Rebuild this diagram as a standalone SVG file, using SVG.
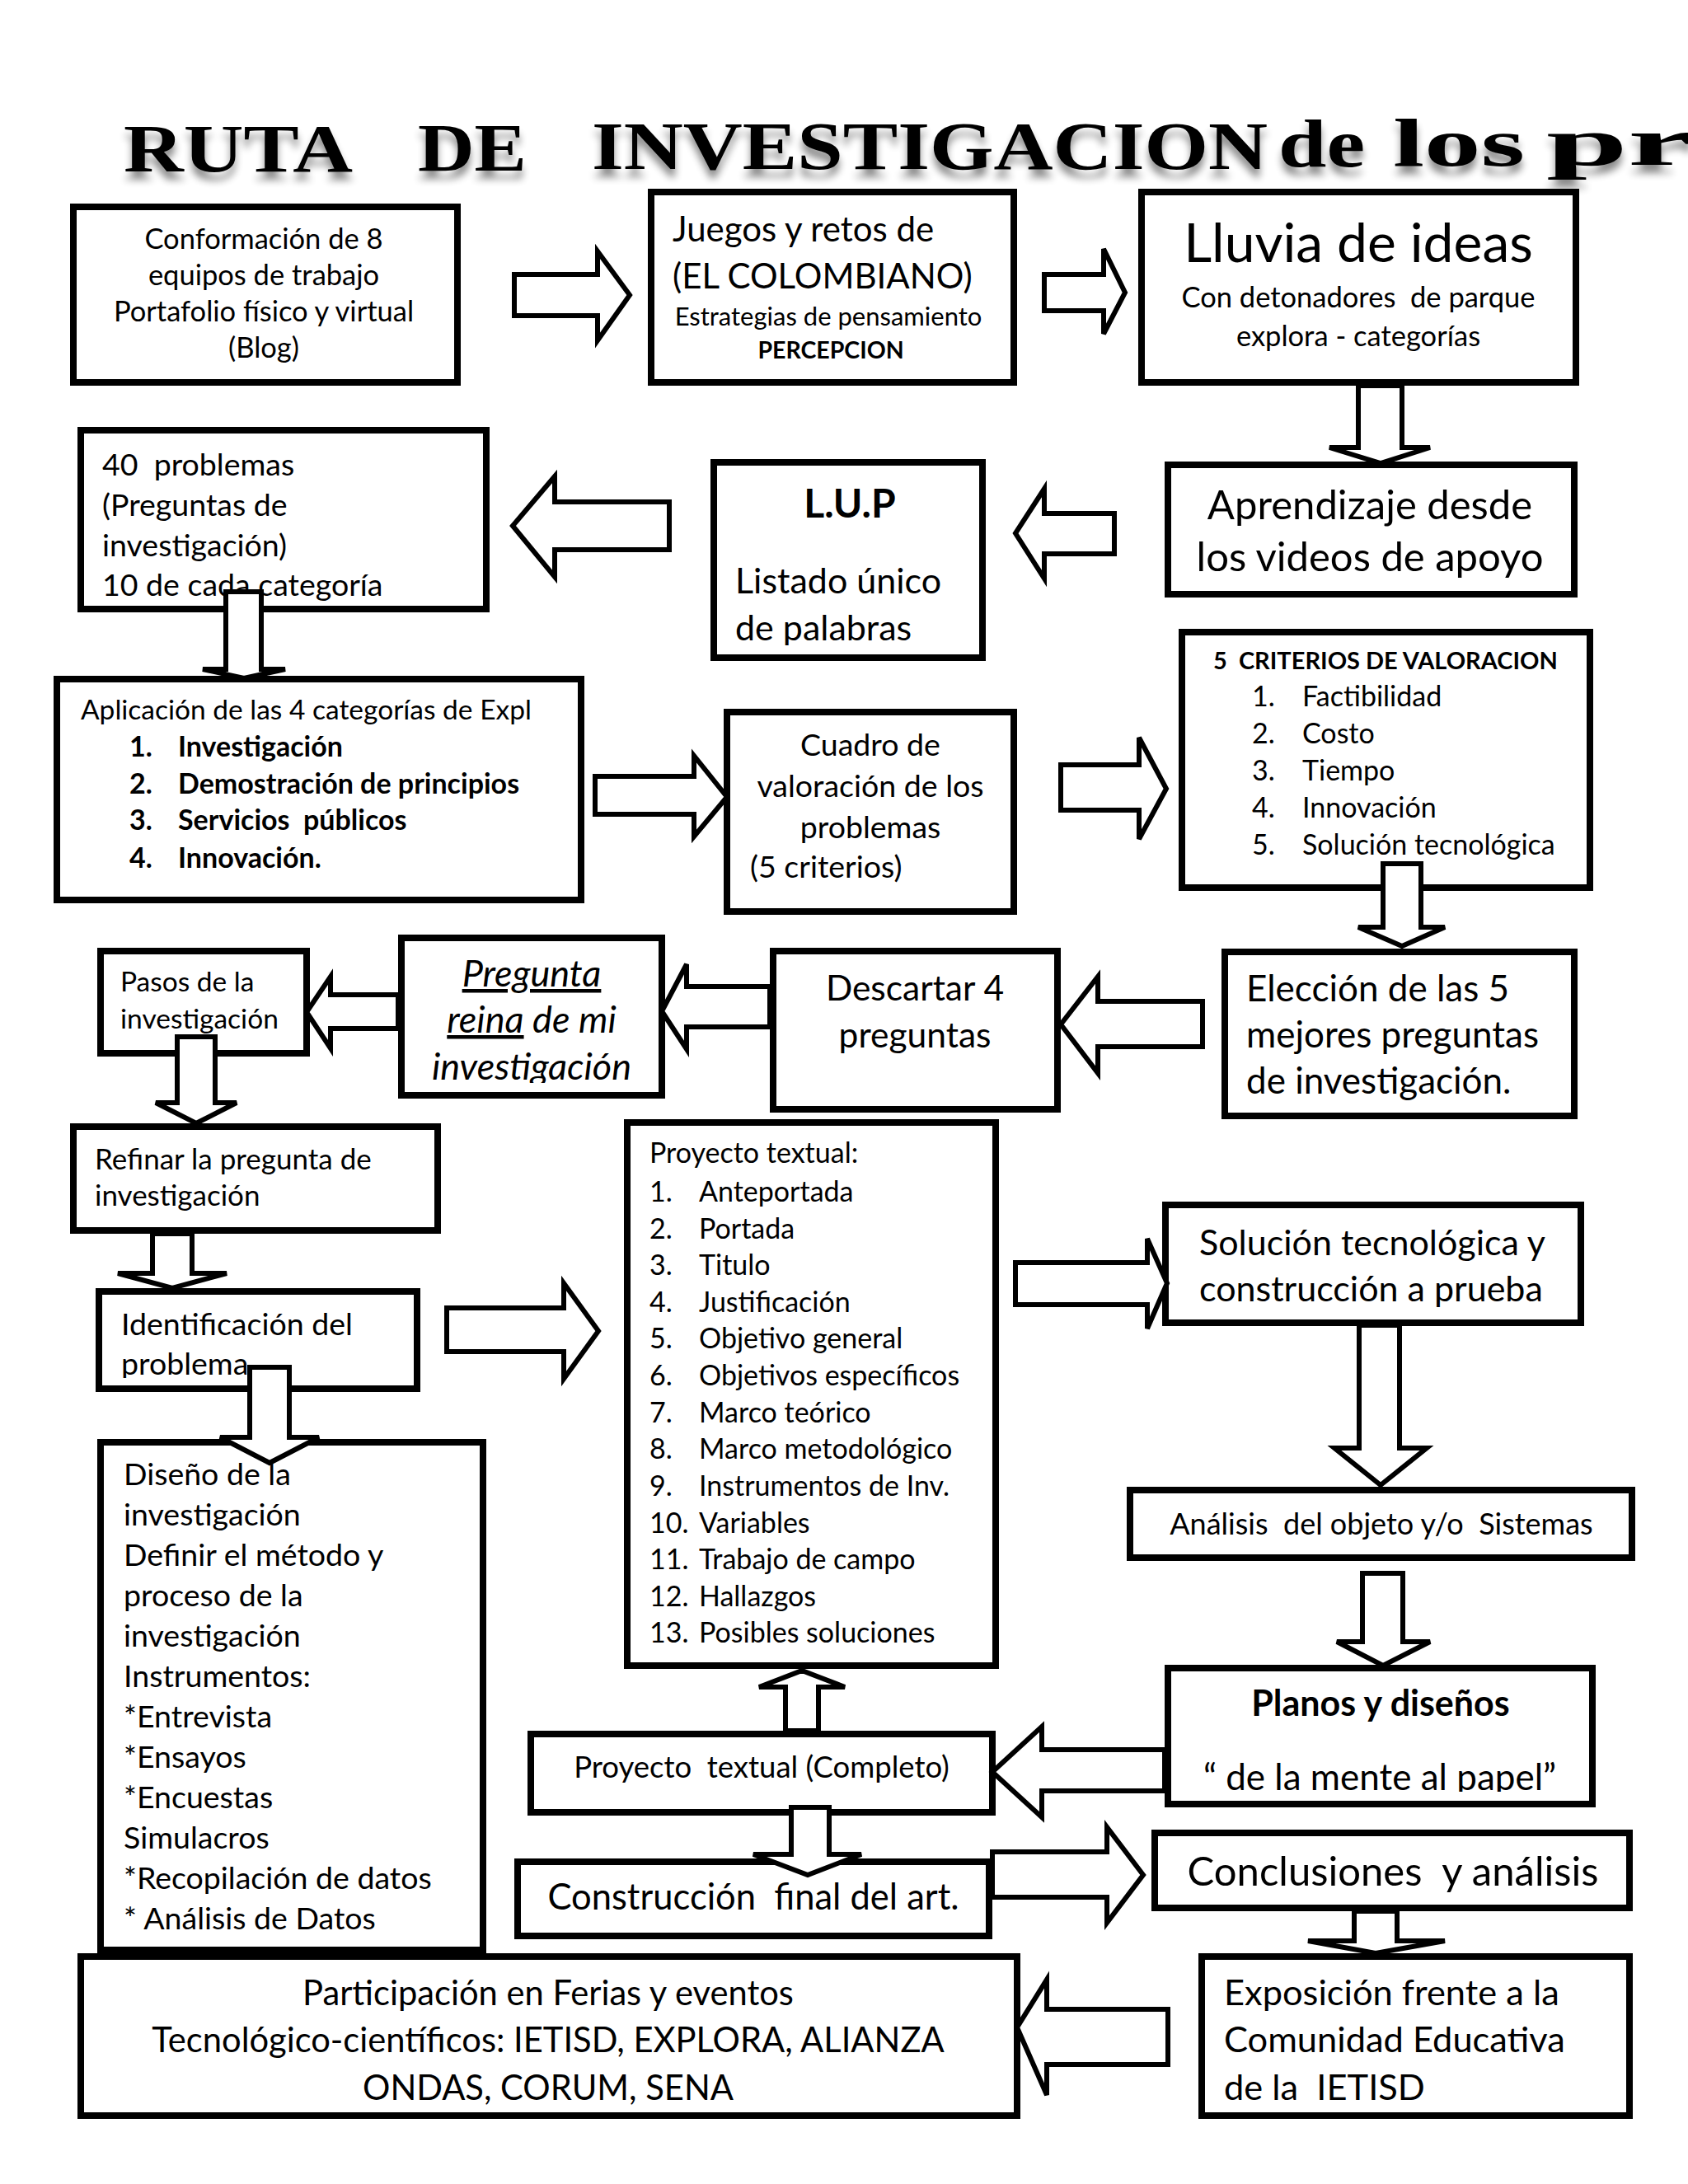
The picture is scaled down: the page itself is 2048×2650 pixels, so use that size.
<svg xmlns="http://www.w3.org/2000/svg" width="2048" height="2650" viewBox="0 0 2048 2650">
<style>
.box{fill:#fff;stroke:#000;stroke-width:8}
.arr{fill:#fff;stroke:#000;stroke-width:6;stroke-linejoin:miter}
text{font-family:Lato,"Liberation Sans",sans-serif;fill:#000;white-space:pre}
.ttl{font-family:"Liberation Serif",serif;font-weight:bold;font-size:82px}
.c{text-anchor:middle}
.b{font-weight:bold}
.i{font-style:italic}
</style>
<defs>
<filter id="sh" x="-5%" y="-30%" width="110%" height="180%">
<feGaussianBlur in="SourceAlpha" stdDeviation="5"/>
<feOffset dx="0" dy="10" result="o"/>
<feComponentTransfer><feFuncA type="linear" slope="0.45"/></feComponentTransfer>
<feMerge><feMergeNode/><feMergeNode in="SourceGraphic"/></feMerge>
</filter>
<clipPath id="k40"><rect x="98" y="522" width="492" height="209"/></clipPath>
<clipPath id="klup"><rect x="866" y="561" width="326" height="222"/></clipPath>
<clipPath id="kpre"><rect x="487" y="1138" width="316" height="176"/></clipPath>
<clipPath id="kide"><rect x="120" y="1567" width="386" height="105"/></clipPath>
<clipPath id="kpla"><rect x="1417" y="2024" width="515" height="150"/></clipPath>
<clipPath id="kpar"><rect x="98" y="2374" width="1880" height="180"/></clipPath>
</defs>
<rect width="2048" height="2650" fill="#fff"/>

<g id="title" filter="url(#sh)">
<text class="ttl" x="150" y="208" textLength="278" lengthAdjust="spacingAndGlyphs">RUTA</text>
<text class="ttl" x="507" y="207" textLength="132" lengthAdjust="spacingAndGlyphs">DE</text>
<text class="ttl" x="718" y="205" textLength="820" lengthAdjust="spacingAndGlyphs">INVESTIGACION</text>
<text class="ttl" x="1551" y="202" textLength="105" lengthAdjust="spacingAndGlyphs">de</text>
<text class="ttl" x="1690" y="201" textLength="160" lengthAdjust="spacingAndGlyphs">los</text>
<text class="ttl" x="1876" y="200" textLength="178" lengthAdjust="spacingAndGlyphs">pr</text>
</g>

<g id="n-conformacion">
<rect class="box" x="89" y="251" width="466" height="213"/>
<text class="c" font-size="34.5"><tspan x="320" y="302">Conformación de 8</tspan><tspan x="320" y="346">equipos de trabajo</tspan><tspan x="320" y="390">Portafolio físico y virtual</tspan><tspan x="320" y="434">(Blog)</tspan></text>
</g>

<g id="n-juegos">
<rect class="box" x="790" y="233" width="440" height="231"/>
<text font-size="42"><tspan x="816" y="293">Juegos y retos de</tspan><tspan x="816" y="350">(EL COLOMBIANO)</tspan></text>
<text class="c" font-size="31" x="1005" y="395">Estrategias de pensamiento</text>
<text class="c b" font-size="28.5" x="1008" y="435">PERCEPCION</text>
</g>

<g id="n-lluvia">
<rect class="box" x="1385" y="233" width="527" height="231"/>
<text class="c" font-size="66" x="1648" y="318">Lluvia de ideas</text>
<text class="c" font-size="34.5"><tspan x="1648" y="373">Con detonadores  de parque</tspan><tspan x="1648" y="420">explora - categorías</tspan></text>
</g>

<g id="n-aprendizaje">
<rect class="box" x="1417" y="564" width="493" height="157"/>
<text class="c" font-size="49"><tspan x="1662" y="630">Aprendizaje desde</tspan><tspan x="1662" y="693">los videos de apoyo</tspan></text>
</g>

<g id="n-lup">
<rect class="box" x="866" y="561" width="326" height="237"/>
<g clip-path="url(#klup)">
<text class="c b" font-size="48" x="1031" y="628">L.U.P</text>
<text font-size="43"><tspan x="892" y="720">Listado único</tspan><tspan x="892" y="777">de palabras</tspan></text>
</g>
</g>

<g id="n-40problemas">
<rect class="box" x="98" y="522" width="492" height="217"/>
<g clip-path="url(#k40)">
<text font-size="37.5"><tspan x="124" y="577">40  problemas</tspan><tspan x="124" y="626">(Preguntas de</tspan><tspan x="124" y="675">investigación)</tspan><tspan x="124" y="723">10 de cada categoría</tspan></text>
</g>
</g>

<g id="n-aplicacion">
<rect class="box" x="69" y="824" width="636" height="268"/>
<text font-size="33.5" x="98" y="873">Aplicación de las 4 categorías de Expl</text>
<text class="b" font-size="34"><tspan x="157" y="918">1.</tspan><tspan x="216" y="918">Investigación</tspan><tspan x="157" y="963">2.</tspan><tspan x="216" y="963">Demostración de principios</tspan><tspan x="157" y="1007">3.</tspan><tspan x="216" y="1007">Servicios  públicos</tspan><tspan x="157" y="1053">4.</tspan><tspan x="216" y="1053">Innovación.</tspan></text>
</g>

<g id="n-cuadro">
<rect class="box" x="882" y="864" width="348" height="242"/>
<text class="c" font-size="37.5"><tspan x="1056" y="917">Cuadro de</tspan><tspan x="1056" y="967">valoración de los</tspan><tspan x="1056" y="1017">problemas</tspan></text>
<text font-size="37.5" x="910" y="1065">(5 criterios)</text>
</g>

<g id="n-criterios">
<rect class="box" x="1434" y="767" width="495" height="310"/>
<text class="b" font-size="29" x="1472" y="812">5  CRITERIOS DE VALORACION</text>
<text font-size="34"><tspan x="1519" y="857">1.</tspan><tspan x="1580" y="857">Factibilidad</tspan><tspan x="1519" y="902">2.</tspan><tspan x="1580" y="902">Costo</tspan><tspan x="1519" y="947">3.</tspan><tspan x="1580" y="947">Tiempo</tspan><tspan x="1519" y="992">4.</tspan><tspan x="1580" y="992">Innovación</tspan><tspan x="1519" y="1037">5.</tspan><tspan x="1580" y="1037">Solución tecnológica</tspan></text>
</g>

<g id="n-eleccion">
<rect class="box" x="1486" y="1155" width="424" height="199"/>
<text font-size="44"><tspan x="1512" y="1215">Elección de las 5</tspan><tspan x="1512" y="1271">mejores preguntas</tspan><tspan x="1512" y="1327">de investigación.</tspan></text>
</g>

<g id="n-descartar">
<rect class="box" x="938" y="1154" width="345" height="192"/>
<text class="c" font-size="42.5"><tspan x="1110" y="1214">Descartar 4</tspan><tspan x="1110" y="1271">preguntas</tspan></text>
</g>

<g id="n-pregunta">
<rect class="box" x="487" y="1138" width="316" height="191"/>
<g clip-path="url(#kpre)">
<text class="c i" font-size="45"><tspan x="645" y="1197" text-decoration="underline">Pregunta</tspan><tspan x="645" y="1253"><tspan text-decoration="underline">reina</tspan> de mi</tspan><tspan x="645" y="1310">investigación</tspan></text>
</g>
</g>

<g id="n-pasos">
<rect class="box" x="122" y="1154" width="250" height="124"/>
<text font-size="33.5"><tspan x="146" y="1203">Pasos de la</tspan><tspan x="146" y="1248">investigación</tspan></text>
</g>

<g id="n-refinar">
<rect class="box" x="89" y="1367" width="442" height="126"/>
<text font-size="35"><tspan x="115" y="1419">Refinar la pregunta de</tspan><tspan x="115" y="1463">investigación</tspan></text>
</g>

<g id="n-identificacion">
<rect class="box" x="120" y="1567" width="386" height="118"/>
<g clip-path="url(#kide)">
<text font-size="37.5"><tspan x="147" y="1620">Identificación del</tspan><tspan x="147" y="1668">problema</tspan></text>
</g>
</g>

<g id="n-diseno">
<rect class="box" x="122" y="1750" width="464" height="616"/>
<text font-size="37.5"><tspan x="150" y="1802">Diseño de la</tspan><tspan x="150" y="1851">investigación</tspan><tspan x="150" y="1900">Definir el método y</tspan><tspan x="150" y="1949">proceso de la</tspan><tspan x="150" y="1998">investigación</tspan><tspan x="150" y="2047">Instrumentos:</tspan><tspan x="150" y="2096">*Entrevista</tspan><tspan x="150" y="2145">*Ensayos</tspan><tspan x="150" y="2194">*Encuestas</tspan><tspan x="150" y="2243">Simulacros</tspan><tspan x="150" y="2292">*Recopilación de datos</tspan><tspan x="150" y="2341">* Análisis de Datos</tspan></text>
</g>

<g id="n-proyecto-textual">
<rect class="box" x="761" y="1362" width="447" height="659"/>
<text font-size="34"><tspan x="788" y="1411">Proyecto textual:</tspan><tspan x="788" y="1458">1.</tspan><tspan x="848" y="1458">Anteportada</tspan><tspan x="788" y="1503">2.</tspan><tspan x="848" y="1503">Portada</tspan><tspan x="788" y="1547">3.</tspan><tspan x="848" y="1547">Titulo</tspan><tspan x="788" y="1592">4.</tspan><tspan x="848" y="1592">Justificación</tspan><tspan x="788" y="1636">5.</tspan><tspan x="848" y="1636">Objetivo general</tspan><tspan x="788" y="1681">6.</tspan><tspan x="848" y="1681">Objetivos específicos</tspan><tspan x="788" y="1726">7.</tspan><tspan x="848" y="1726">Marco teórico</tspan><tspan x="788" y="1770">8.</tspan><tspan x="848" y="1770">Marco metodológico</tspan><tspan x="788" y="1815">9.</tspan><tspan x="848" y="1815">Instrumentos de Inv.</tspan><tspan x="788" y="1860">10.</tspan><tspan x="848" y="1860">Variables</tspan><tspan x="788" y="1904">11.</tspan><tspan x="848" y="1904">Trabajo de campo</tspan><tspan x="788" y="1949">12.</tspan><tspan x="848" y="1949">Hallazgos</tspan><tspan x="788" y="1993">13.</tspan><tspan x="848" y="1993">Posibles soluciones</tspan></text>
</g>

<g id="n-solucion">
<rect class="box" x="1414" y="1462" width="504" height="143"/>
<text font-size="43"><tspan x="1455" y="1523">Solución tecnológica y</tspan><tspan x="1455" y="1579">construcción a prueba</tspan></text>
</g>

<g id="n-analisis">
<rect class="box" x="1371" y="1808" width="609" height="82"/>
<text class="c" font-size="36" x="1676" y="1862">Análisis  del objeto y/o  Sistemas</text>
</g>

<g id="n-proyecto-completo">
<rect class="box" x="644" y="2104" width="560" height="95"/>
<text class="c" font-size="36.5" x="924" y="2157">Proyecto  textual (Completo)</text>
</g>

<g id="n-planos">
<rect class="box" x="1417" y="2024" width="515" height="165"/>
<g clip-path="url(#kpla)">
<text class="c b" font-size="43" x="1675" y="2082">Planos y diseños</text>
<text class="c" font-size="44" x="1674" y="2172">“ de la mente al papel”</text>
</g>
</g>

<g id="n-construccion">
<rect class="box" x="628" y="2259" width="572" height="90"/>
<text class="c" font-size="43.5" x="914" y="2317">Construcción  final del art.</text>
</g>

<g id="n-conclusiones">
<rect class="box" x="1401" y="2224" width="576" height="91"/>
<text class="c" font-size="49" x="1690" y="2288">Conclusiones  y análisis</text>
</g>

<g id="n-participacion">
<rect class="box" x="98" y="2374" width="1136" height="193"/>
<g clip-path="url(#kpar)">
<text class="c" font-size="41.7"><tspan x="665" y="2433">Participación en Ferias y eventos</tspan><tspan x="665" y="2490">Tecnológico-científicos: IETISD, EXPLORA, ALIANZA</tspan><tspan x="665" y="2548">ONDAS, CORUM, SENA</tspan></text>
</g>
</g>

<g id="n-exposicion">
<rect class="box" x="1458" y="2374" width="519" height="193"/>
<g clip-path="url(#kpar)">
<text font-size="43.4"><tspan x="1485" y="2433">Exposición frente a la</tspan><tspan x="1485" y="2490">Comunidad Educativa</tspan><tspan x="1485" y="2548">de la  IETISD</tspan></text>
</g>
</g>

<g id="connectors">
<polygon class="arr" points="624,333 725,333 725,305 764,358 725,413 725,383 624,383"/>
<polygon class="arr" points="1267,333 1339,333 1339,302 1365,355 1339,405 1339,377 1267,377"/>
<polygon class="arr" points="1648,468 1701,468 1701,543 1735,543 1675,562 1613,543 1648,543"/>
<polygon class="arr" points="1352,623 1267,623 1267,593 1232,647 1267,702 1267,672 1352,672"/>
<polygon class="arr" points="812,609 673,609 673,578 622,638 673,700 673,667 812,667"/>
<polygon class="arr" points="274,718 317,718 317,812 346,812 296,823 246,812 274,812"/>
<polygon class="arr" points="722,942 842,942 842,917 882,967 842,1015 842,988 722,988"/>
<polygon class="arr" points="1287,928 1382,928 1382,895 1415,957 1382,1018 1382,983 1287,983"/>
<polygon class="arr" points="1678,1048 1724,1048 1724,1125 1753,1125 1701,1148 1648,1125 1678,1125"/>
<polygon class="arr" points="1459,1215 1332,1215 1332,1185 1287,1243 1332,1302 1332,1270 1459,1270"/>
<polygon class="arr" points="934,1197 833,1197 833,1170 803,1227 833,1273 833,1246 934,1246"/>
<polygon class="arr" points="483,1207 401,1207 401,1185 372,1228 401,1272 401,1248 483,1248"/>
<polygon class="arr" points="215,1258 261,1258 261,1338 287,1338 238,1363 189,1338 215,1338"/>
<polygon class="arr" points="185,1497 233,1497 233,1545 275,1545 209,1563 143,1545 185,1545"/>
<polygon class="arr" points="303,1659 351,1659 351,1744 387,1744 327,1775 267,1744 303,1744"/>
<polygon class="arr" points="542,1587 684,1587 684,1557 726,1615 684,1673 684,1640 542,1640"/>
<polygon class="arr" points="1232,1532 1392,1532 1392,1503 1416,1557 1392,1612 1392,1583 1232,1583"/>
<polygon class="arr" points="1649,1608 1698,1608 1698,1757 1731,1757 1675,1802 1619,1757 1649,1757"/>
<polygon class="arr" points="1653,1909 1702,1909 1702,1992 1735,1992 1678,2021 1622,1992 1653,1992"/>
<polygon class="arr" points="1413,2123 1264,2123 1264,2095 1204,2150 1264,2205 1264,2173 1413,2173"/>
<polygon class="arr" points="953,2100 993,2100 993,2047 1025,2047 973,2027 921,2047 953,2047"/>
<polygon class="arr" points="960,2193 1006,2193 1006,2250 1045,2250 980,2275 914,2250 960,2250"/>
<polygon class="arr" points="1204,2247 1343,2247 1343,2217 1387,2275 1343,2333 1343,2302 1204,2302"/>
<polygon class="arr" points="1643,2319 1695,2319 1695,2355 1753,2355 1669,2370 1587,2355 1643,2355"/>
<polygon class="arr" points="1417,2438 1270,2438 1270,2402 1234,2460 1270,2542 1270,2505 1417,2505"/>
</g>
</svg>
